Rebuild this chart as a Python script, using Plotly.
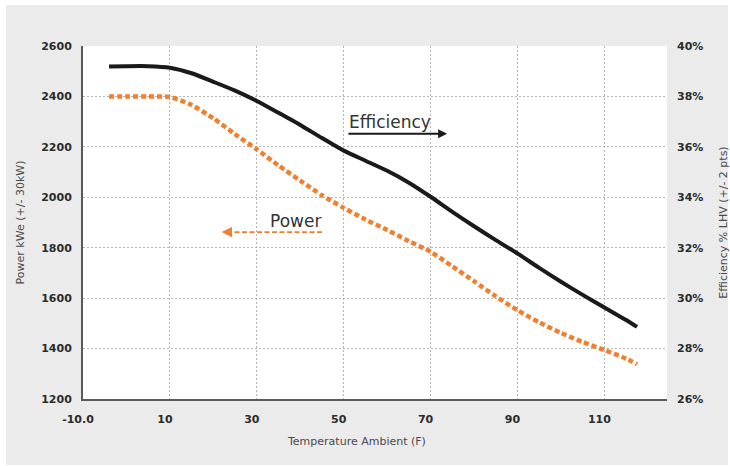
import plotly.graph_objects as go

# ---- data ----
temperature = [-4, 0, 5, 10, 15, 20, 25, 30, 35, 40, 45, 50, 55, 60, 65,
               70, 75, 80, 85, 90, 95, 100, 105, 110, 115, 117.5]
efficiency_pct = [39.19, 39.20, 39.20, 39.14, 38.92, 38.58, 38.23, 37.82, 37.35,
                  36.87, 36.35, 35.85, 35.45, 35.05, 34.58, 34.02, 33.42, 32.85,
                  32.30, 31.77, 31.20, 30.65, 30.13, 29.63, 29.13, 28.86]
power_kwe = [2400, 2400, 2400, 2398, 2366, 2313, 2250, 2190, 2126, 2066, 2008,
             1958, 1912, 1870, 1826, 1784, 1726, 1667, 1607, 1552, 1504, 1462,
             1426, 1394, 1360, 1338]

x_tick_vals = [-10, 10, 30, 50, 70, 90, 110]
x_tick_text = ["-10.0", "10", "30", "50", "70", "90", "110"]
power_ticks = [1200, 1400, 1600, 1800, 2000, 2200, 2400, 2600]
eff_ticks = [26, 28, 30, 32, 34, 36, 38, 40]
eff_tick_text = ["26%", "28%", "30%", "32%", "34%", "36%", "38%", "40%"]

ORANGE = "#f0802f"
BLACK = "#1a1a1a"
TICK_FONT = dict(family="DejaVu Sans", size=11, color="#2b2b2b", weight="bold")
TITLE_FONT = dict(family="DejaVu Sans", size=11, color="#4a4a4a")
GRID = "#b5b5b5"

fig = go.Figure()

fig.add_trace(go.Scatter(
    x=temperature, y=power_kwe, mode="lines", name="Power",
    line=dict(color=ORANGE, width=4.5, dash="5px,3px", shape="spline", smoothing=0.6),
    yaxis="y", showlegend=False, hoverinfo="skip"))

fig.add_trace(go.Scatter(
    x=temperature, y=efficiency_pct, mode="lines", name="Efficiency",
    line=dict(color=BLACK, width=4, shape="spline", smoothing=0.6),
    yaxis="y2", showlegend=False, hoverinfo="skip"))

# Background panel and white plot area
fig.add_shape(type="rect", xref="paper", yref="paper",
              x0=-0.1318, x1=1.1045, y0=-0.187, y1=1.1161,
              fillcolor="#ebebeb", line_width=0, layer="below")
fig.add_shape(type="rect", xref="paper", yref="paper",
              x0=0, x1=1, y0=0, y1=1,
              fillcolor="white", line_width=0, layer="below")

# Power arrow (dashed, pointing left)
fig.add_shape(type="line", xref="x", yref="y",
              x0=45.0, x1=23.2, y0=1862, y1=1862,
              line=dict(color=ORANGE, width=1.6, dash="5px,2.5px"))
fig.add_annotation(x=21.9, y=1862, ax=23.6, ay=1862, xref="x", yref="y",
                   axref="x", ayref="y", text="", showarrow=True,
                   arrowhead=2, arrowsize=1.3, arrowwidth=1.6, arrowcolor=ORANGE)
fig.add_annotation(x=32.6, y=1906, xref="x", yref="y", text="Power",
                   showarrow=False, xanchor="left", yanchor="middle",
                   font=dict(family="DejaVu Sans", size=17, color="#333333"))

# Efficiency arrow (solid, pointing right)
fig.add_annotation(x=73.8, y=2252, ax=50.75, ay=2252, xref="x", yref="y",
                   axref="x", ayref="y", text="", showarrow=True,
                   arrowhead=2, arrowsize=1, arrowwidth=1.8, arrowcolor=BLACK)
fig.add_annotation(x=50.75, y=2297, xref="x", yref="y", text="Efficiency",
                   showarrow=False, xanchor="left", yanchor="middle",
                   font=dict(family="DejaVu Sans", size=17, color="#333333"))

# x axis title (slightly left of centre as in the reference)
fig.add_annotation(x=0.4675, y=-0.119, xref="paper", yref="paper",
                   text="Temperature Ambient (F)", showarrow=False,
                   xanchor="center", yanchor="middle", font=TITLE_FONT)

fig.update_layout(
    width=730, height=466,
    margin=dict(l=83, r=63, t=46, b=67, autoexpand=False),
    paper_bgcolor="white", plot_bgcolor="white",
    hovermode=False,
    xaxis=dict(range=[-10, 124.4], tickvals=x_tick_vals, ticktext=x_tick_text,
               showgrid=True, gridcolor=GRID, griddash="2px,2px", gridwidth=1,
               zeroline=False, showline=True, linecolor="#5a5a5a", linewidth=2,
               ticks="", tickfont=TICK_FONT, ticklabelstandoff=9,
               ticklabelshift=-5, automargin=False),
    yaxis=dict(range=[1200, 2600], tickvals=power_ticks,
               showgrid=True, gridcolor=GRID, griddash="2px,2px", gridwidth=1,
               zeroline=False, showline=True, linecolor="#5a5a5a", linewidth=2,
               ticks="", tickfont=TICK_FONT, ticklabelstandoff=7,
               title=dict(text="Power kWe (+/- 30kW)", font=TITLE_FONT, standoff=14),
               automargin=False),
    yaxis2=dict(range=[26, 40], tickvals=eff_ticks, ticktext=eff_tick_text,
                overlaying="y", side="right", showgrid=False, zeroline=False,
                showline=False, ticks="", tickfont=TICK_FONT, ticklabelstandoff=9,
                title=dict(text="Efficiency % LHV (+/- 2 pts)", font=TITLE_FONT, standoff=16),
                automargin=False),
)

fig.write_html("out.html", config={"displayModeBar": False, "staticPlot": True},
               post_script="document.body.style.margin='0';document.body.style.padding='0';")
